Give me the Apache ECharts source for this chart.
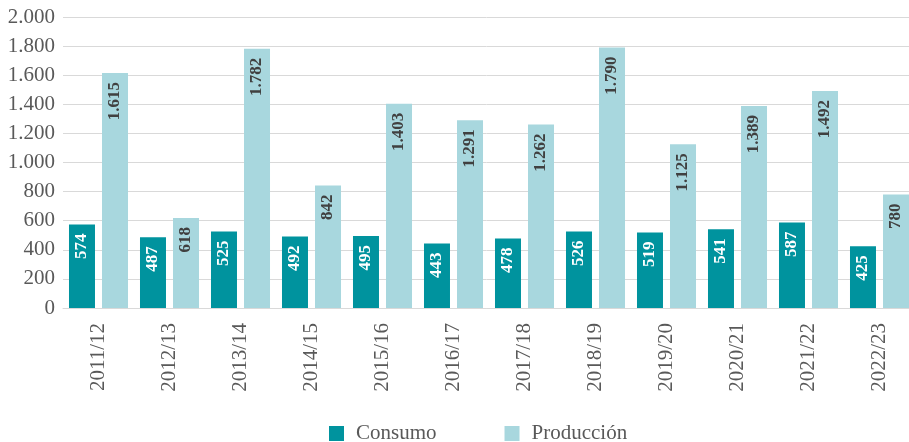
<!DOCTYPE html>
<html lang="es">
<head>
  <meta charset="UTF-8">
  <title>chart</title>
  <script src="https://cdn.jsdelivr.net/npm/echarts@6/dist/echarts.min.js"></script>
</head>
<body style="margin:0">
<div id="main" style="width: 909px;height:442px;"></div>
<script>
var categories = ['2011/12', '2012/13', '2013/14', '2014/15', '2015/16', '2016/17', '2017/18', '2018/19', '2019/20', '2020/21', '2021/22', '2022/23'];
var consumo = [574, 487, 525, 492, 495, 443, 478, 526, 519, 541, 587, 425];
var produccion = [1615, 618, 1782, 842, 1403, 1291, 1262, 1790, 1125, 1389, 1492, 780];

function fmt(v) {
  return String(v).replace(/\B(?=(\d{3})+(?!\d))/g, '.');
}

var font = '"Liberation Serif", "Times New Roman", serif';
var myChart = echarts.init(document.getElementById('main'));

function lbl(color) {
  return {
    show: true,
    position: 'insideTop',
    rotate: 90,
    align: 'right',
    verticalAlign: 'middle',
    distance: 9,
    fontFamily: font,
    fontWeight: 'bold',
    fontSize: 17,
    color: color,
    formatter: function (p) { return fmt(p.value); }
  };
}

myChart.setOption({
  textStyle: { fontFamily: font },
  grid: { left: 63, width: 852, top: 17, bottom: 134, outerBoundsMode: 'none', containLabel: false },
  legend: {
    top: 423,
    left: 329,
    itemWidth: 15,
    itemHeight: 15,
    itemGap: 68,
    padding: 0,
    icon: 'rect',
    textStyle: { fontFamily: font, fontSize: 21, color: '#595959', padding: [0, 0, 0, 7] },
    data: ['Consumo', 'Producción']
  },
  xAxis: {
    type: 'category',
    data: categories,
    axisTick: { show: false },
    axisLine: { lineStyle: { color: '#d9d9d9' } },
    axisLabel: { rotate: 90, fontFamily: font, fontSize: 21, color: '#595959', margin: 15 }
  },
  yAxis: {
    type: 'value',
    min: 0,
    max: 2000,
    interval: 200,
    splitLine: { lineStyle: { color: '#d9d9d9' } },
    axisLabel: { fontFamily: font, fontSize: 21, color: '#595959', margin: 8, formatter: fmt }
  },
  series: [{
    name: 'Consumo',
    type: 'bar',
    data: consumo,
    barWidth: 26,
    barGap: '27%',
    itemStyle: { color: '#00939e' },
    label: lbl('#ffffff')
  }, {
    name: 'Producción',
    type: 'bar',
    data: produccion,
    barWidth: 26,
    itemStyle: { color: '#a8d7de' },
    label: lbl('#404040')
  }]
});
</script>
</body>
</html>
